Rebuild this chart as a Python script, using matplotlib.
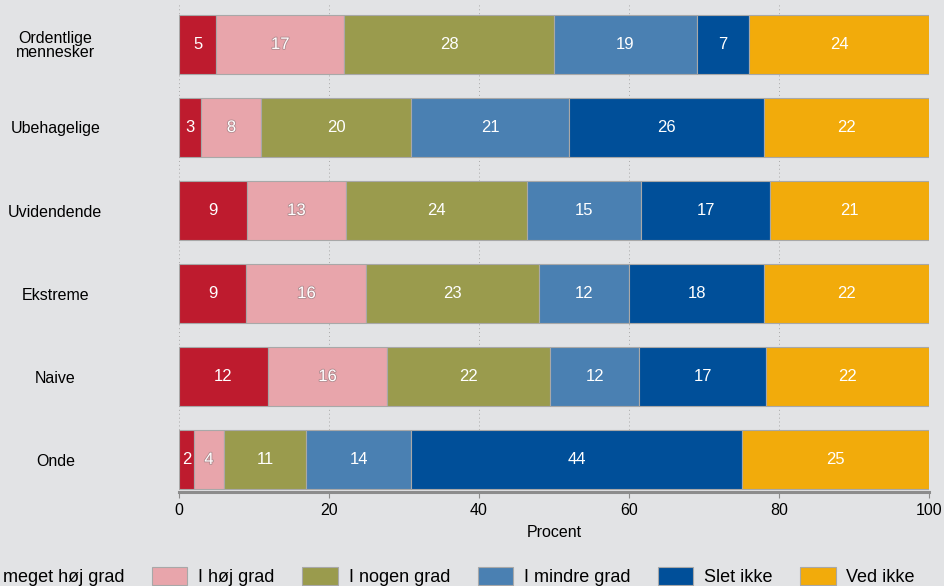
import matplotlib.pyplot as plt
import matplotlib.patheffects as pe
import numpy as np

plt.rcParams['font.family'] = ['Liberation Sans', 'DejaVu Sans']

# Data (percent per category)
categories = ['Ordentlige\nmennesker', 'Ubehagelige', 'Uvidendende', 'Ekstreme', 'Naive', 'Onde']
series = ['I meget høj grad', 'I høj grad', 'I nogen grad', 'I mindre grad', 'Slet ikke', 'Ved ikke']
meget_hoj = [5, 3, 9, 9, 12, 2]
hoj = [17, 8, 13, 16, 16, 4]
nogen = [28, 20, 24, 23, 22, 11]
mindre = [19, 21, 15, 12, 12, 14]
slet_ikke = [7, 26, 17, 18, 17, 44]
ved_ikke = [24, 22, 21, 22, 22, 25]

colors = ['#be1b2e', '#e8a5ab', '#9a9b4d', '#4a80b2', '#004f99', '#f2ab0b']
bg = '#e2e3e5'

values = np.array([meget_hoj, hoj, nogen, mindre, slet_ikke, ved_ikke], dtype=float)
# each row is scaled to 100 percent, labels keep the rounded numbers
shares = values / values.sum(axis=0) * 100

fig = plt.figure(figsize=(9.45, 5.86), dpi=100, facecolor=bg)
ax = fig.add_axes([0.1894, 0.1604, 0.7937, 0.8346], facecolor=bg)

y = np.arange(len(categories))
left = np.zeros(len(categories))
for i, name in enumerate(series):
    ax.barh(y, shares[i], left=left, height=0.71, color=colors[i],
            edgecolor='#a8a8a8', linewidth=0.8, label=name, zorder=2)
    for j in range(len(categories)):
        txt = ax.text(left[j] + shares[i][j] / 2, y[j], '%d' % values[i][j],
                      ha='center', va='center', color='white', fontsize=12, zorder=3)
        if i == 1:
            txt.set_path_effects([pe.withStroke(linewidth=1.2, foreground='#b08a8e')])
    left += shares[i]

ax.set_xlim(0, 100)
ax.set_ylim(5.39, -0.5)
ax.set_xticks(np.arange(0, 101, 20))
ax.set_yticks(y)
ax.set_yticklabels(categories, ha='center', fontsize=11.5, linespacing=0.95)
ax.tick_params(axis='y', length=0, pad=89)
ax.tick_params(axis='x', length=4, width=0.8, color='#8c8c8c', labelsize=11.5, pad=4)
ax.set_xlabel('Procent', fontsize=11.5, labelpad=5)
ax.xaxis.grid(True, linestyle=(0, (1, 3)), color='#a8a8a8', linewidth=0.7, zorder=0)
ax.set_axisbelow(True)

for s in ['top', 'right', 'left']:
    ax.spines[s].set_visible(False)
ax.spines['bottom'].set_color('#8c8c8c')
ax.spines['bottom'].set_linewidth(2.2)

handles, labels = ax.get_legend_handles_labels()
fig.legend(handles, labels, loc='center', bbox_to_anchor=(0.456, 0.016), ncol=6,
           frameon=False, fontsize=13, handlelength=1.95, handleheight=1.1,
           handletextpad=0.6, columnspacing=1.54, borderpad=0)

fig.savefig('out.png', dpi=100, facecolor=bg)
